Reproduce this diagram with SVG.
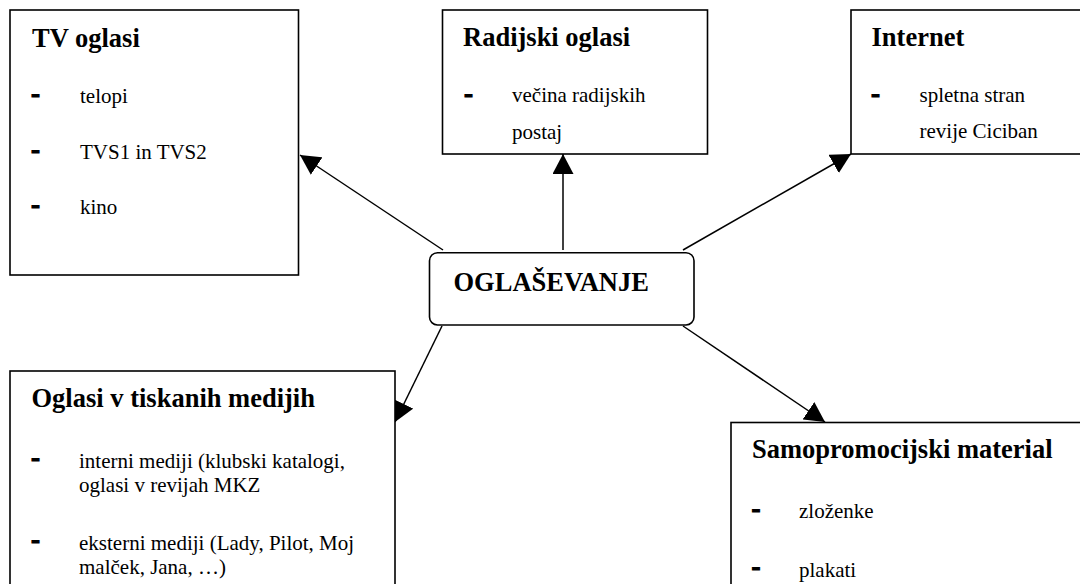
<svg xmlns="http://www.w3.org/2000/svg" width="1080" height="584" viewBox="0 0 1080 584">
<style>
.box{fill:#fff;stroke:#000;stroke-width:1.6}
.title{font-family:"Liberation Serif","Times New Roman",serif;font-weight:bold;font-size:26.5px;fill:#000}
.item{font-family:"Liberation Serif","Times New Roman",serif;font-size:21px;fill:#000}
.dash{font-family:"Liberation Serif","Times New Roman",serif;font-weight:bold;font-size:27px;fill:#000;stroke:#000;stroke-width:1.1}
.conn{stroke:#000;stroke-width:1.5;fill:none;marker-end:url(#arrow)}
</style>
<defs>
<marker id="arrow" markerUnits="userSpaceOnUse" markerWidth="21" markerHeight="21" refX="20" refY="10.5" orient="auto" viewBox="0 0 21 21">
<path d="M0,0 L20,10.5 L0,21 Z" fill="#000"/>
</marker>
</defs>
<rect width="1080" height="584" fill="#fff"/>
<g id="connectors">
<line class="conn" x1="443" y1="250" x2="300" y2="155"/>
<line class="conn" x1="563" y1="250" x2="563" y2="154"/>
<line class="conn" x1="683" y1="250" x2="851" y2="154"/>
<line class="conn" x1="442" y1="326" x2="395" y2="422"/>
<line class="conn" x1="683" y1="326" x2="825" y2="422"/>
</g>
<g id="tv">
<rect class="box" x="10" y="10" width="288.5" height="265"/>
<text class="title" x="32" y="46.5">TV oglasi</text>
<text class="dash" x="31" y="102">-</text>
<text class="item" x="80" y="103">telopi</text>
<text class="dash" x="31" y="157.5">-</text>
<text class="item" x="80" y="158.5">TVS1 in TVS2</text>
<text class="dash" x="31" y="213">-</text>
<text class="item" x="80" y="214">kino</text>
</g>
<g id="radio">
<rect class="box" x="442.5" y="10" width="265" height="144"/>
<text class="title" x="463" y="45.5">Radijski oglasi</text>
<text class="dash" x="464" y="102">-</text>
<text class="item" x="512" y="101.7">večina radijskih</text>
<text class="item" x="512" y="138.7">postaj</text>
</g>
<g id="internet">
<rect class="box" x="851" y="10" width="240" height="144"/>
<text class="title" x="871.5" y="45.5">Internet</text>
<text class="dash" x="871" y="102">-</text>
<text class="item" x="919.5" y="101.7">spletna stran</text>
<text class="item" x="919.5" y="138.3">revije Ciciban</text>
</g>
<g id="center">
<rect class="box" x="429.5" y="252.7" width="264.5" height="72.3" rx="8" ry="8"/>
<text class="title" x="453.5" y="291">OGLAŠEVANJE</text>
</g>
<g id="print">
<rect class="box" x="10" y="371" width="385" height="230"/>
<text class="title" x="31.5" y="407">Oglasi v tiskanih medijih</text>
<text class="dash" x="31" y="465.5">-</text>
<text class="item" x="79" y="467.5">interni mediji (klubski katalogi,</text>
<text class="item" x="79" y="491.5">oglasi v revijah MKZ</text>
<text class="dash" x="31" y="548">-</text>
<text class="item" x="79" y="550">eksterni mediji (Lady, Pilot, Moj</text>
<text class="item" x="79" y="574">malček, Jana, …)</text>
</g>
<g id="samopromocija">
<rect class="box" x="731" y="422.5" width="360" height="180"/>
<text class="title" x="752" y="458">Samopromocijski material</text>
<text class="dash" x="751.5" y="516.5">-</text>
<text class="item" x="799" y="518.2">zloženke</text>
<text class="dash" x="751.5" y="575">-</text>
<text class="item" x="799" y="576.8">plakati</text>
</g>
</svg>
